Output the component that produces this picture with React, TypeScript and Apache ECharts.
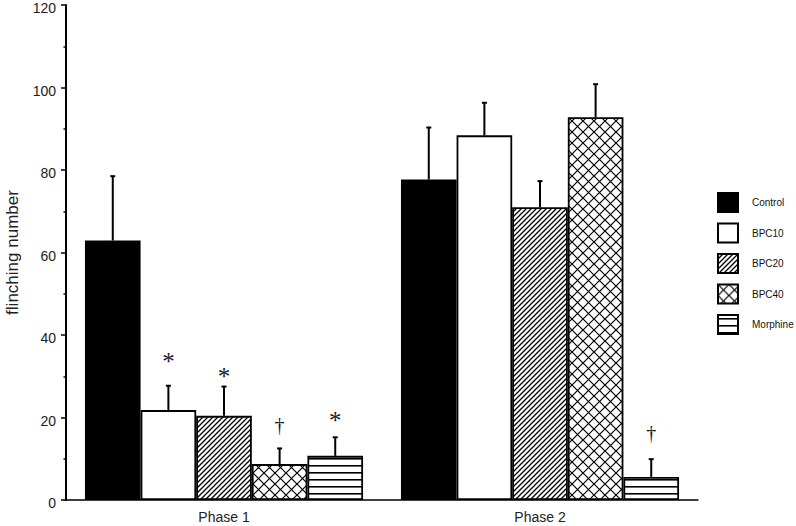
import React, { useEffect, useRef } from "react";
import * as echarts from "echarts";

const categories = ["Phase 1", "Phase 2"];
const seriesNames = ["Control", "BPC10", "BPC20", "BPC40", "Morphine"];
const controlVals = [62.9, 77.7];
const bpc10Vals = [21.8, 88.4];
const bpc20Vals = [20.4, 71.0];
const bpc40Vals = [8.7, 92.8];
const morphineVals = [10.7, 5.6];
const controlErr = [15.6, 12.6];
const bpc10Err = [5.9, 7.9];
const bpc20Err = [7.1, 6.3];
const bpc40Err = [3.8, 8.0];
const morphineErr = [4.5, 4.3];
// significance marks: text and the value height where they sit
const controlSig = ["", ""];
const bpc10Sig = ["*", ""];
const bpc20Sig = ["*", ""];
const bpc40Sig = ["†", ""];
const morphineSig = ["*", "†"];
const controlSigY = [0, 0];
const bpc10SigY = [34.8, 0];
const bpc20SigY = [31.2, 0];
const bpc40SigY = [18.2, 0];
const morphineSigY = [20.6, 16.3];
const yTicks = [0, 20, 40, 60, 80, 100, 120];

const values = [controlVals, bpc10Vals, bpc20Vals, bpc40Vals, morphineVals];
const errs = [controlErr, bpc10Err, bpc20Err, bpc40Err, morphineErr];
const sigs = [controlSig, bpc10Sig, bpc20Sig, bpc40Sig, morphineSig];
const sigYs = [controlSigY, bpc10SigY, bpc20SigY, bpc40SigY, morphineSigY];

const GAP = 0.12;

function makeCanvas(w: number, h: number, draw: (c: CanvasRenderingContext2D) => void) {
  const cv = document.createElement("canvas");
  cv.width = w;
  cv.height = h;
  const ctx = cv.getContext("2d")!;
  ctx.fillStyle = "#fff";
  ctx.fillRect(0, 0, w, h);
  ctx.strokeStyle = "#000";
  ctx.fillStyle = "#000";
  draw(ctx);
  return cv;
}

function patterns() {
  const diag = makeCanvas(5, 5, (c) => {
    c.lineWidth = 1.3;
    c.beginPath();
    c.moveTo(-1, 6);
    c.lineTo(6, -1);
    c.moveTo(-1, 1);
    c.lineTo(1, -1);
    c.moveTo(4, 6);
    c.lineTo(6, 4);
    c.stroke();
  });
  const cross = makeCanvas(11, 11, (c) => {
    c.lineWidth = 1.2;
    c.beginPath();
    c.moveTo(-1, -1);
    c.lineTo(12, 12);
    c.moveTo(-1, 12);
    c.lineTo(12, -1);
    c.stroke();
  });
  const horiz = makeCanvas(4, 7, (c) => {
    c.fillRect(0, 3, 4, 1.6);
  });
  return [
    "#000",
    "#fff",
    { image: diag, repeat: "repeat" },
    { image: cross, repeat: "repeat" },
    { image: horiz, repeat: "repeat" },
  ];
}

export default function App() {
  const ref = useRef<HTMLDivElement>(null);
  useEffect(() => {
    if (!ref.current) return;
    const chart = echarts.init(ref.current, null, { renderer: "svg" });
    const fills = patterns();
    const barSeries = seriesNames.map((name, i) => ({
      name,
      type: "bar",
      data: values[i],
      barCategoryGap: GAP * 100 + "%",
      barGap: "0%",
      itemStyle: { color: fills[i] as any, borderColor: "#000", borderWidth: 1.8 },
      emphasis: { disabled: true },
    }));
    const errData: any[] = [];
    categories.forEach((_, c) => {
      seriesNames.forEach((_, s) => {
        errData.push([c, values[s][c], errs[s][c], s, sigYs[s][c]]);
      });
    });
    const errSeries = {
      type: "custom",
      name: "err",
      data: errData,
      z: 5,
      renderItem: (params: any, api: any) => {
        const c = api.value(0);
        const v = api.value(1);
        const e = api.value(2);
        const s = api.value(3);
        const sy = api.value(4);
        const band = api.size([1, 0])[0];
        const group = band * (1 - GAP);
        const bw = group / seriesNames.length;
        const center = api.coord([c, 0])[0];
        const x = center - group / 2 + bw * (s + 0.5);
        const y0 = api.coord([c, v])[1];
        const y1 = api.coord([c, v + e])[1];
        const children: any[] = [
          { type: "line", shape: { x1: x, y1: y0, x2: x, y2: y1 }, style: { stroke: "#000", lineWidth: 2 } },
          { type: "line", shape: { x1: x - 2.5, y1: y1, x2: x + 2.5, y2: y1 }, style: { stroke: "#000", lineWidth: 2 } },
        ];
        const t = sigs[s][c];
        if (t) {
          const ty = api.coord([c, sy])[1];
          const isStar = t === "*";
          children.push({
            type: "text",
            x,
            y: isStar ? ty + 5 : ty,
            style: {
              text: t,
              fill: "#1a1a2a",
              fontSize: isStar ? 25 : 20,
              fontFamily: "Liberation Serif",
              align: "center",
              verticalAlign: "middle",
            },
          });
        }
        return { type: "group", children };
      },
    };
    chart.setOption({
      animation: false,
      grid: { left: 66, right: 98, top: 5, bottom: 26, containLabel: false, outerBoundsMode: "none" },
      legend: {
        orient: "vertical",
        left: 717,
        top: 192,
        padding: 0,
        itemWidth: 20,
        itemHeight: 19,
        itemGap: 9.5,
        icon: "rect",
        data: seriesNames,
        selectedMode: false,
        textStyle: { fontSize: 10, color: "#111", fontFamily: "Liberation Sans", padding: [0, 0, 0, 9] },
      },
      xAxis: {
        type: "category",
        data: categories,
        axisLine: { lineStyle: { color: "#000", width: 1.5 } },
        axisTick: { alignWithLabel: true, length: 4, lineStyle: { color: "#000", width: 1.5 } },
        axisLabel: { fontSize: 14, color: "#222", fontFamily: "Liberation Sans", margin: 10 },
      },
      yAxis: {
        type: "value",
        min: yTicks[0],
        max: yTicks[yTicks.length - 1],
        interval: 20,
        name: "flinching number",
        nameLocation: "middle",
        nameGap: 45,
        nameTextStyle: { fontSize: 17, color: "#222", fontFamily: "Liberation Sans" },
        axisLine: { show: true, lineStyle: { color: "#000", width: 2 } },
        axisTick: { show: true, length: 5, lineStyle: { color: "#000", width: 1.5 } },
        minorTick: { show: true, splitNumber: 2, length: 2.5, lineStyle: { color: "#000", width: 1.5 } },
        splitLine: { show: false },
        axisLabel: { fontSize: 14, color: "#222", fontFamily: "Liberation Sans", margin: 10, verticalAlign: "top", lineHeight: 6 },
      },
      series: [...barSeries, errSeries],
    } as any);
    return () => chart.dispose();
  }, []);
  return <div ref={ref} style={{ width: 796, height: 526, position: "absolute", left: 0, top: 0 }} />;
}
